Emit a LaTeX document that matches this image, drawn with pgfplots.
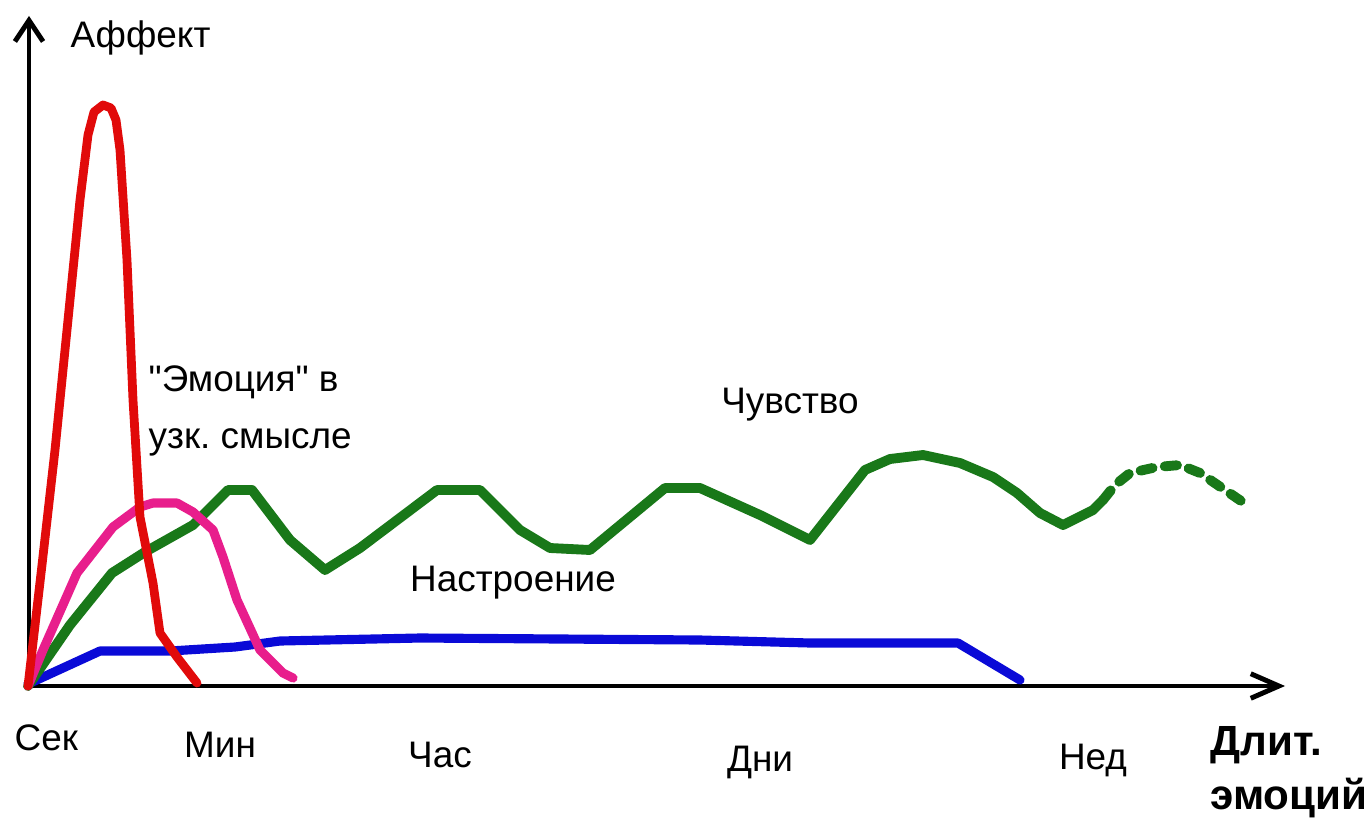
\documentclass[border=0pt]{standalone}
\usepackage{pgfplots}
\pgfplotsset{compat=1.18}
\usepackage{fontspec}
\setmainfont{Liberation Sans}
\newfontfamily\qf{Liberation Sans}[Ligatures=ResetAll]
\usetikzlibrary{arrows.meta}
\definecolor{cred}{RGB}{225,10,10}
\definecolor{cpink}{RGB}{232,30,140}
\definecolor{cgreen}{RGB}{25,120,25}
\definecolor{cblue}{RGB}{10,10,215}
\frenchspacing
\begin{document}
\begin{tikzpicture}
\begin{axis}[scale only axis, width=13.72cm, height=8.17cm,
  xmin=0, xmax=1372, ymin=0, ymax=817, y dir=reverse,
  hide axis, clip=false,
  every axis plot/.append style={line cap=round, line join=round}]
% axes
\addplot[black, line width=1.4pt, -{Straight Barb[length=6pt,width=8pt]}] coordinates {(29,686) (29,16)};
\addplot[black, line width=1.4pt, -{Straight Barb[length=8pt,width=7pt]}] coordinates {(28,686) (1285,686)};
% blue: Nastroenie
\addplot[cblue, line width=2.6pt] coordinates {
(28,684) (100,651) (170,651) (235,647) (280,641) (420,638) (700,640) (810,643) (958,643) (1020,680)};
% green: Chuvstvo (solid)
\addplot[cgreen, line width=2.8pt] coordinates {
(28,686) (70,625) (112,573) (145,552) (193,525) (228,490) (252,490) (290,540) (325,570) (360,548) (437,490) (480,490) (520,530) (550,548) (590,550) (665,488) (700,488) (760,515) (810,540) (865,470) (890,459) (923,455) (960,463) (993,477) (1017,493) (1040,513) (1063,525) (1093,510) (1103,500)};
% green dashed
\addplot[cgreen, line width=2.8pt, dash pattern=on 3.5pt off 3.5pt] coordinates {
(1103,500) (1115,485) (1130,473) (1157,467) (1180,465) (1200,473) (1222,488) (1247,505)};
% pink: emotion in narrow sense
\addplot[cpink, line width=2.6pt] coordinates {
(28,686) (43,650) (77,573) (113,527) (140,507) (153,503) (177,503) (193,512) (213,530) (223,557) (237,600) (260,650) (283,673) (293,678)};
% red: affect
\addplot[cred, line width=2.5pt] coordinates {
(28,686) (42,565) (55,450) (68,320) (80,200) (88,135) (94,112) (103,105) (111,108) (116,120) (120,150) (127,260) (133,400) (140,517) (153,583) (160,633) (177,657) (197,683)};
% labels
\begin{scope}[every node/.style={font=\fontsize{10.5}{12}\selectfont, inner sep=0pt}]
\node[anchor=west] at (axis cs:70,38) {Аффект};
\node[anchor=west, align=left] at (axis cs:148,411) {{\qf"}Эмоция{\qf"} в\\[4pt]узк.\ смысле};
\node at (axis cs:790,405) {Чувство};
\node at (axis cs:513,583) {Настроение};
\node[anchor=west] at (axis cs:14,738) {Сек};
\node at (axis cs:220,745) {Мин};
\node at (axis cs:440,755) {Час};
\node at (axis cs:760,762) {Дни};
\node at (axis cs:1093,760) {Нед};
\node[anchor=east, align=left, font=\fontsize{12}{14}\selectfont\bfseries] at (axis cs:1368,772) {Длит.\\[1.5pt]эмоций};
\end{scope}
\coordinate (sw) at (axis cs:0,817);
\coordinate (ne) at (axis cs:1372,0);
\end{axis}
\pgfresetboundingbox
\path (sw) rectangle (ne);
\end{tikzpicture}
\end{document}
